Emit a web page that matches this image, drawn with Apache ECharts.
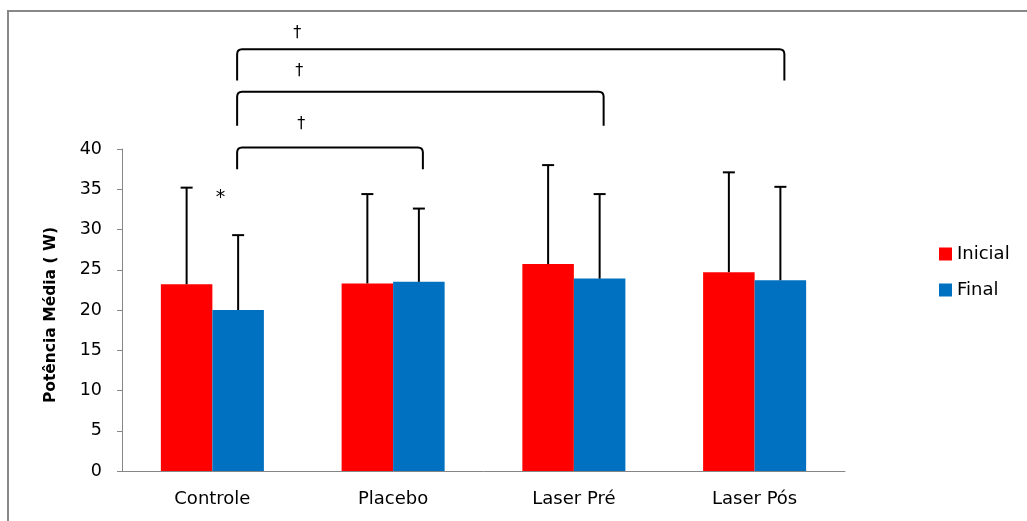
<!DOCTYPE html>
<html>
<head>
<meta charset="utf-8">
<title>Potência Média</title>
<script src="https://cdn.jsdelivr.net/npm/echarts@6/dist/echarts.min.js"></script>
<style>
  html, body { margin: 0; padding: 0; background: #fff; }
  #chart { width: 1027px; height: 521px; }
</style>
</head>
<body>
<div id="chart"></div>
<script>
// dados
var grupos = ['Controle', 'Placebo', 'Laser Pré', 'Laser Pós'];
var inicial = [23.2, 23.3, 25.7, 24.7];
var final = [20.0, 23.5, 23.9, 23.7];
var inicialDP = [12.0, 11.1, 12.3, 12.4];
var finalDP = [9.3, 9.1, 10.5, 11.6];
var yTicks = [0, 5, 10, 15, 20, 25, 30, 35, 40];

// chaves de significância (†)
var chaveDe = ['Controle', 'Controle', 'Controle'];
var chaveAte = ['Laser Pós', 'Laser Pré', 'Placebo'];
var chaveTopo = [52.4, 47.1, 40.2];
var chaveBase = [48.5, 42.9, 37.5];
var chaveSimbolo = ['†', '†', '†'];
var chaveSimboloValor = [54.4, 49.7, 43.1];

// asterisco
var asteriscoGrupo = ['Controle'];
var asteriscoValor = [34.1];

var fonte = "'DejaVu Sans', sans-serif";
var catGap = 0.43;

var chart = echarts.init(document.getElementById('chart'));

function barW(api) {
  return api.size([1, 0])[0] * (1 - catGap) / 2;
}

function erroItem(lado) {
  return function (params, api) {
    var bw = barW(api);
    var base = api.coord([api.value(0), api.value(1)]);
    var topo = api.coord([api.value(0), api.value(1) + api.value(2)]);
    var x = base[0] + lado * bw / 2;
    var style = { stroke: '#000', lineWidth: 2 };
    return {
      type: 'group',
      children: [
        { type: 'line', shape: { x1: x, y1: base[1], x2: x, y2: topo[1] }, style: style },
        { type: 'line', shape: { x1: x - 6, y1: topo[1], x2: x + 6, y2: topo[1] }, style: style }
      ]
    };
  };
}

function chaveItem(params, api) {
  var bw = barW(api);
  var i = params.dataIndex;
  var a = api.coord([chaveDe[i], chaveTopo[i]]);
  var b = api.coord([chaveAte[i], chaveBase[i]]);
  var s = api.coord([chaveDe[i], chaveSimboloValor[i]]);
  var x1 = a[0] + bw / 2 - 1;
  var x2 = b[0] + bw / 2 + 4;
  var yt = a[1], yb = b[1], r = 5;
  var d = 'M' + x1 + ' ' + yb + ' L' + x1 + ' ' + (yt + r) +
    ' Q' + x1 + ' ' + yt + ' ' + (x1 + r) + ' ' + yt +
    ' L' + (x2 - r) + ' ' + yt +
    ' Q' + x2 + ' ' + yt + ' ' + x2 + ' ' + (yt + r) +
    ' L' + x2 + ' ' + yb;
  return {
    type: 'group',
    children: [
      { type: 'path', shape: { pathData: d }, style: { stroke: '#000', lineWidth: 2, fill: null } },
      {
        type: 'text', x: x1 + 60 + i * 2, y: s[1],
        style: { text: chaveSimbolo[i], fill: '#000', font: '16px ' + fonte, align: 'center', verticalAlign: 'middle' }
      }
    ]
  };
}

function asteriscoItem(params, api) {
  var p = api.coord([api.value(0), api.value(1)]);
  return {
    type: 'text', x: p[0] + 8, y: p[1] + 2,
    style: { text: '*', fill: '#000', font: '19px ' + fonte, align: 'center', verticalAlign: 'middle' }
  };
}

var option = {
  animation: false,
  graphic: [{
    type: 'rect',
    shape: { x: 8, y: 11, width: 1100, height: 600 },
    style: { fill: null, stroke: '#888', lineWidth: 2 },
    silent: true
  }],
  legend: {
    data: ['Inicial', 'Final'],
    orient: 'vertical',
    left: 934,
    top: 240,
    itemWidth: 13,
    itemHeight: 13,
    itemGap: 18,
    icon: 'rect',
    textStyle: { fontSize: 18, color: '#000', fontFamily: fonte }
  },
  grid: { left: 122, right: 182, top: 149, bottom: 50 },
  xAxis: {
    type: 'category',
    data: grupos,
    axisLine: { lineStyle: { color: '#868686' } },
    axisTick: { length: 6, lineStyle: { color: '#868686' } },
    axisLabel: { fontSize: 18, color: '#000', margin: 19, fontFamily: fonte }
  },
  yAxis: {
    type: 'value',
    min: 0,
    max: 40,
    interval: 5,
    name: 'Potência Média ( W)',
    nameLocation: 'middle',
    nameGap: 63,
    nameTextStyle: { fontSize: 15.5, fontWeight: 'bold', color: '#000', fontFamily: fonte, padding: [0, 10, 0, 0] },
    axisLine: { show: true, lineStyle: { color: '#868686' } },
    axisTick: { show: true, length: 5, lineStyle: { color: '#868686' } },
    splitLine: { show: false },
    axisLabel: {
      fontSize: 17.5, color: '#000', margin: 20, fontFamily: fonte,
      formatter: function (v) { return yTicks.indexOf(v) >= 0 ? String(v) : ''; }
    }
  },
  series: [
    {
      name: 'Inicial', type: 'bar', data: inicial,
      barGap: '0%', barCategoryGap: (catGap * 100) + '%',
      itemStyle: { color: '#ff0000' }
    },
    {
      name: 'Final', type: 'bar', data: final,
      itemStyle: { color: '#0070c0' }
    },
    {
      name: 'erroInicial', type: 'custom', clip: false, z: 5,
      renderItem: erroItem(-1),
      data: grupos.map(function (g, i) { return [g, inicial[i], inicialDP[i]]; })
    },
    {
      name: 'erroFinal', type: 'custom', clip: false, z: 5,
      renderItem: erroItem(1),
      data: grupos.map(function (g, i) { return [g, final[i], finalDP[i]]; })
    },
    {
      name: 'chaves', type: 'custom', clip: false, z: 5,
      renderItem: chaveItem,
      data: chaveDe.map(function (g, i) { return [g, chaveTopo[i]]; })
    },
    {
      name: 'asterisco', type: 'custom', clip: false, z: 5,
      renderItem: asteriscoItem,
      data: asteriscoGrupo.map(function (g, i) { return [g, asteriscoValor[i]]; })
    }
  ]
};

chart.setOption(option);
</script>
</body>
</html>
